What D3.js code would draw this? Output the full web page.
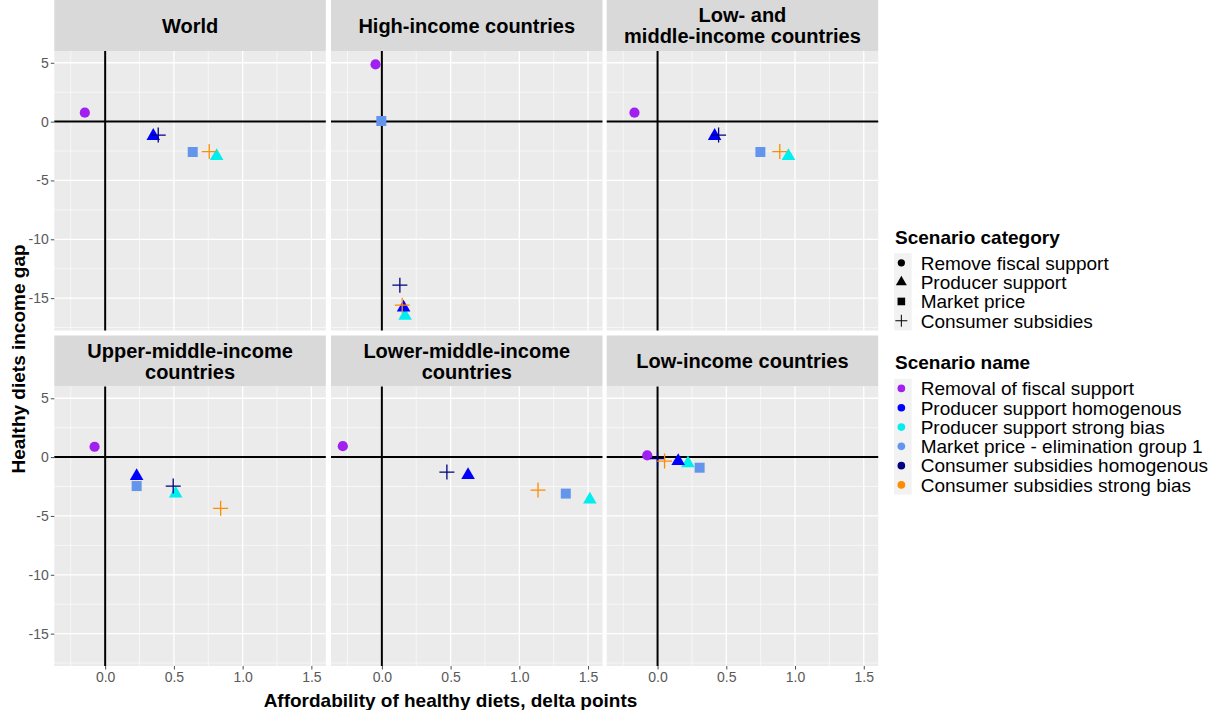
<!DOCTYPE html>
<html>
<head>
<meta charset="utf-8">
<script src="https://cdn.jsdelivr.net/npm/d3@7"></script>
<style>
  html, body { margin: 0; padding: 0; background: #fff; }
  svg { display: block; font-family: "Liberation Sans", Arial, sans-serif; }
</style>
</head>
<body>
<svg id="chart" width="1213" height="710"></svg>
<script>
// Facet panels (income groups)
const panelTitles = [
  ["World"],
  ["High-income countries"],
  ["Low- and", "middle-income countries"],
  ["Upper-middle-income", "countries"],
  ["Lower-middle-income", "countries"],
  ["Low-income countries"]
];

// Scenario categories (shape legend)
const categoryNames = ["Remove fiscal support", "Producer support", "Market price", "Consumer subsidies"];
const categoryShapes = ["circle", "triangle", "square", "cross"];

// Scenarios (colour legend)
const scenarioNames = [
  "Removal of fiscal support",
  "Producer support homogenous",
  "Producer support strong bias",
  "Market price - elimination group 1",
  "Consumer subsidies homogenous",
  "Consumer subsidies strong bias"
];
const scenarioColors = ["#A020F0", "#0000FF", "#00EEEE", "#6495ED", "#000080", "#FF8C00"];
const scenarioCategory = [0, 1, 1, 2, 3, 3];

// Values per scenario, one entry per panel (same order as panelTitles)
// x: affordability of healthy diets (delta points), y: healthy diets income gap
const removalX     = [-0.148, -0.046, -0.168, -0.077, -0.284, -0.075];
const removalY     = [0.76, 4.86, 0.76, 0.88, 0.93, 0.14];
const prodHomogX   = [0.350, 0.158, 0.415, 0.229, 0.627, 0.150];
const prodHomogY   = [-1.22, -15.8, -1.22, -1.61, -1.53, -0.34];
const prodStrongX  = [0.811, 0.169, 0.952, 0.513, 1.513, 0.221];
const prodStrongY  = [-2.92, -16.5, -2.92, -3.10, -3.60, -0.53];
const marketX      = [0.637, -0.004, 0.748, 0.229, 1.338, 0.306];
const marketY      = [-2.58, 0.05, -2.58, -2.46, -3.10, -0.90];
const consHomogX   = [0.386, 0.131, 0.444, 0.495, 0.473, 0.000];
const consHomogY   = [-1.14, -13.9, -1.14, -2.46, -1.27, -0.13];
const consStrongX  = [0.757, 0.148, 0.889, 0.840, 1.136, 0.051];
const consStrongY  = [-2.55, -15.6, -2.55, -4.35, -2.80, -0.34];

const scenarioX = [removalX, prodHomogX, prodStrongX, marketX, consHomogX, consStrongX];
const scenarioY = [removalY, prodHomogY, prodStrongY, marketY, consHomogY, consStrongY];
// drawing order (later ones on top)
const drawOrder = [0, 3, 2, 1, 4, 5];

// Axis ticks
const xMajor = [0, 0.5, 1.0, 1.5];
const xMinor = [-0.25, 0.25, 0.75, 1.25];
const yMajor = [5, 0, -5, -10, -15];
const yMinor = [2.5, -2.5, -7.5, -12.5, -17.5];

// ---- layout ----
const svg = d3.select("#chart");
const colX = [54.3, 331, 606.7];
const panelW = 271.5;
const stripH = 51;
const panelH = 279.5;
const rowY = [0, 335.5]; // strip tops
const xDomain = [-0.37, 1.605];
const yDomain = [-17.75, 6.0];

const x = d3.scaleLinear().domain(xDomain).range([0, panelW]);
const y = d3.scaleLinear().domain(yDomain).range([panelH, 0]);

function shapePath(shape, s) {
  if (shape === "circle") return d3.symbol(d3.symbolCircle, s.circle)();
  if (shape === "triangle") return d3.symbol(d3.symbolTriangle, s.triangle)();
  if (shape === "square") return d3.symbol(d3.symbolSquare, s.square)();
  const h = s.cross / 2;
  return `M${-h},0H${h}M0,${-h}V${h}`;
}
const panelSizes = { circle: 82, triangle: 80, square: 100, cross: 15 };
const legendSizes = { circle: 42, triangle: 52, square: 58, cross: 12 };

function drawMark(g, shape, color, sizes) {
  const p = g.append("path").attr("d", shapePath(shape, sizes));
  if (shape === "cross") {
    p.attr("fill", "none").attr("stroke", color).attr("stroke-width", 1.3);
  } else {
    p.attr("fill", color);
  }
  return p;
}

panelTitles.forEach((title, i) => {
  const col = i % 3, row = Math.floor(i / 3);
  const left = colX[col];
  const stripTop = rowY[row];
  const top = stripTop + stripH;

  // strip
  const strip = svg.append("g").attr("transform", `translate(${left},${stripTop})`);
  strip.append("rect").attr("width", panelW).attr("height", stripH).attr("fill", "#D9D9D9");
  const lineGap = 21;
  const c0 = stripH / 2 - (title.length - 1) * lineGap / 2;
  title.forEach((t, k) => {
    strip.append("text")
      .attr("x", panelW / 2).attr("y", c0 + k * lineGap)
      .attr("dy", "0.36em")
      .attr("text-anchor", "middle")
      .attr("font-size", 20).attr("font-weight", "bold").attr("fill", "#000")
      .text(t);
  });

  const g = svg.append("g").attr("transform", `translate(${left},${top})`);
  g.append("rect").attr("width", panelW).attr("height", panelH).attr("fill", "#EBEBEB");

  // grid
  g.selectAll(".xmin").data(xMinor).join("line")
    .attr("x1", d => x(d)).attr("x2", d => x(d)).attr("y1", 0).attr("y2", panelH)
    .attr("stroke", "#fff").attr("stroke-width", 0.6);
  g.selectAll(".ymin").data(yMinor).join("line")
    .attr("y1", d => y(d)).attr("y2", d => y(d)).attr("x1", 0).attr("x2", panelW)
    .attr("stroke", "#fff").attr("stroke-width", 0.6);
  g.selectAll(".xmaj").data(xMajor).join("line")
    .attr("x1", d => x(d)).attr("x2", d => x(d)).attr("y1", 0).attr("y2", panelH)
    .attr("stroke", "#fff").attr("stroke-width", 1.3);
  g.selectAll(".ymaj").data(yMajor).join("line")
    .attr("y1", d => y(d)).attr("y2", d => y(d)).attr("x1", 0).attr("x2", panelW)
    .attr("stroke", "#fff").attr("stroke-width", 1.3);

  // zero reference lines
  g.append("line").attr("x1", x(0)).attr("x2", x(0)).attr("y1", 0).attr("y2", panelH)
    .attr("stroke", "#000").attr("stroke-width", 2);
  g.append("line").attr("y1", y(0)).attr("y2", y(0)).attr("x1", 0).attr("x2", panelW)
    .attr("stroke", "#000").attr("stroke-width", 2);

  // points
  drawOrder.forEach(s => {
    const m = g.append("g")
      .attr("transform", `translate(${x(scenarioX[s][i])},${y(scenarioY[s][i])})`);
    drawMark(m, categoryShapes[scenarioCategory[s]], scenarioColors[s], panelSizes);
  });

  // axes
  if (col === 0) {
    const ax = g.append("g").call(d3.axisLeft(y).tickValues(yMajor).tickSize(3.5).tickPadding(2)
      .tickFormat(d3.format("d")));
    ax.select(".domain").remove();
    ax.selectAll(".tick line").attr("stroke", "#4D4D4D").attr("stroke-width", 1);
    ax.selectAll("text").attr("font-size", 14).attr("fill", "#595959")
      .attr("font-family", "Liberation Sans, Arial, sans-serif")
      .text(d => d < 0 ? "-" + Math.abs(d) : d);
  }
  if (row === 1) {
    const ax = g.append("g").attr("transform", `translate(0,${panelH})`)
      .call(d3.axisBottom(x).tickValues(xMajor).tickSize(3.5).tickPadding(3)
      .tickFormat(d3.format(".1f")));
    ax.select(".domain").remove();
    ax.selectAll(".tick line").attr("stroke", "#4D4D4D").attr("stroke-width", 1);
    ax.selectAll("text").attr("font-size", 14).attr("fill", "#595959")
      .attr("font-family", "Liberation Sans, Arial, sans-serif");
  }
});

// axis titles
svg.append("text")
  .attr("x", 450.5).attr("y", 706.5)
  .attr("text-anchor", "middle")
  .attr("font-size", 19).attr("font-weight", "bold")
  .text("Affordability of healthy diets, delta points");

svg.append("text")
  .attr("transform", "translate(24.5,359) rotate(-90)")
  .attr("text-anchor", "middle")
  .attr("font-size", 19).attr("font-weight", "bold")
  .text("Healthy diets income gap");

// legends
const legendX = 894;
const keyW = 17.7, rowH = 19.3;

function legend(top, title, labels, drawKey) {
  const g = svg.append("g").attr("transform", `translate(${legendX},${top})`);
  g.append("text").attr("x", 1).attr("y", 0).attr("dy", "0.36em")
    .attr("font-size", 19).attr("font-weight", "bold").text(title);
  const keysTop = 16.5;
  g.append("rect").attr("x", 0).attr("y", keysTop)
    .attr("width", keyW).attr("height", rowH * labels.length).attr("fill", "#F2F2F2");
  labels.forEach((lab, k) => {
    const cy = keysTop + rowH * (k + 0.5);
    const m = g.append("g").attr("transform", `translate(${keyW / 2 - 1.5},${cy})`);
    drawKey(m, k);
    g.append("text").attr("x", 26.7).attr("y", cy).attr("dy", "0.36em")
      .attr("font-size", 19).text(lab);
  });
}

legend(236.7, "Scenario category", categoryNames, (m, k) => {
  const p = drawMark(m, categoryShapes[k], "#000", legendSizes);
  if (categoryShapes[k] === "cross") p.attr("stroke-width", 1);
});
legend(362.3, "Scenario name", scenarioNames, (m, k) => {
  drawMark(m, "circle", scenarioColors[k], { circle: 46 });
});
</script>
</body>
</html>
